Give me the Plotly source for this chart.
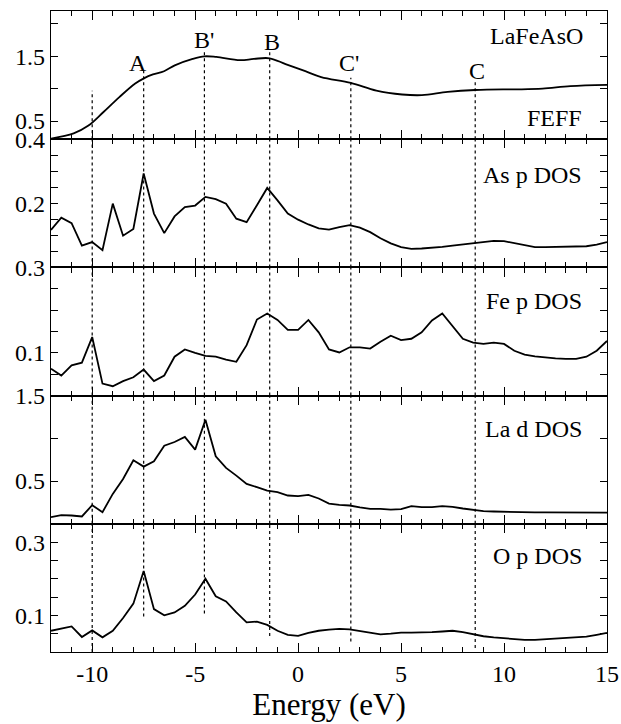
import plotly.graph_objects as go
from plotly.subplots import make_subplots

# ---------------- data ----------------
feff_energy = [-12.0, -10.9, -10.18, -9.45, -8.68, -7.91, -7.49, -7.05, -6.51, -5.99, -5.12, -4.55,
               -3.97, -2.82, -2.15, -1.38, -0.61, 0.35, 1.12, 2.56, 3.8, 5.05, 6.01, 7.26, 8.6,
               9.95, 10.72, 11.87, 13.22, 15.0]
feff_mu = [0.23, 0.31, 0.43, 0.64, 0.87, 1.08, 1.16, 1.22, 1.27, 1.36, 1.46, 1.50,
           1.49, 1.44, 1.46, 1.47, 1.38, 1.27, 1.18, 1.09, 0.97, 0.91, 0.90, 0.95, 0.98,
           0.99, 0.99, 1.00, 1.04, 1.06]

dos_energy = [-12.0, -11.5, -11.0, -10.5, -10.0, -9.5, -9.0, -8.5, -8.0, -7.5, -7.0, -6.5, -6.0,
              -5.5, -5.0, -4.5, -4.0, -3.5, -3.0, -2.5, -2.0, -1.5, -1.0, -0.5, 0.0, 0.5, 1.0,
              1.5, 2.0, 2.5, 3.0, 3.5, 4.0, 4.5, 5.0, 5.5, 6.0, 6.5, 7.0, 7.5, 8.0, 8.5, 9.0,
              9.5, 10.0, 10.5, 11.0, 11.5, 12.0, 12.5, 13.0, 13.5, 14.0, 14.5, 15.0]

as_p = [0.117, 0.155, 0.138, 0.068, 0.079, 0.054, 0.199, 0.099, 0.120, 0.293, 0.168, 0.107, 0.159,
        0.188, 0.193, 0.220, 0.213, 0.199, 0.152, 0.141, 0.194, 0.248, 0.209, 0.168, 0.149, 0.134,
        0.122, 0.118, 0.126, 0.132, 0.124, 0.110, 0.091, 0.075, 0.063, 0.058, 0.059, 0.061, 0.064,
        0.068, 0.072, 0.076, 0.080, 0.083, 0.082, 0.075, 0.068, 0.063, 0.063, 0.064, 0.064, 0.064,
        0.066, 0.071, 0.079]

fe_p = [0.063, 0.047, 0.071, 0.077, 0.137, 0.028, 0.022, 0.034, 0.043, 0.061, 0.034, 0.047, 0.091,
        0.108, 0.100, 0.093, 0.091, 0.084, 0.079, 0.118, 0.178, 0.192, 0.177, 0.154, 0.154, 0.177,
        0.148, 0.108, 0.101, 0.113, 0.113, 0.110, 0.126, 0.140, 0.130, 0.133, 0.148, 0.176, 0.192,
        0.162, 0.133, 0.124, 0.121, 0.124, 0.121, 0.105, 0.096, 0.092, 0.089, 0.087, 0.086, 0.086,
        0.091, 0.105, 0.128]

la_d = [0.078, 0.101, 0.097, 0.086, 0.218, 0.136, 0.350, 0.525, 0.743, 0.669, 0.731, 0.914, 0.957,
        1.016, 0.868, 1.218, 0.790, 0.654, 0.564, 0.467, 0.428, 0.389, 0.370, 0.331, 0.323, 0.339,
        0.296, 0.237, 0.222, 0.214, 0.191, 0.175, 0.175, 0.167, 0.171, 0.206, 0.195, 0.195, 0.206,
        0.198, 0.179, 0.160, 0.148, 0.144, 0.140, 0.138, 0.136, 0.134, 0.134, 0.133, 0.133, 0.132,
        0.131, 0.130, 0.130]

o_p = [0.058, 0.065, 0.070, 0.041, 0.059, 0.040, 0.058, 0.093, 0.132, 0.221, 0.117, 0.100, 0.108,
       0.126, 0.157, 0.200, 0.152, 0.138, 0.108, 0.081, 0.083, 0.074, 0.058, 0.047, 0.044, 0.052,
       0.058, 0.061, 0.063, 0.062, 0.057, 0.052, 0.048, 0.050, 0.053, 0.053, 0.053, 0.054, 0.056,
       0.058, 0.054, 0.048, 0.043, 0.040, 0.037, 0.034, 0.033, 0.033, 0.035, 0.037, 0.039, 0.041,
       0.042, 0.047, 0.052]

x_tickvals = [-10, -5, 0, 5, 10, 15]
x_ticktext = ["-10", "-5", "0", "5", "10", "15"]

feature_energy = [-10.0, -7.5, -4.55, -1.38, 2.56, 8.6]
feature_names = ["", "A", "B'", "B", "C'", "C"]
feature_label_x = [None, -7.76, -4.55, -1.28, 2.46, 8.7]
feature_label_y = [None, 1.39, 1.75, 1.72, 1.39, 1.27]
feff_line_top = [0.97, 1.28, 1.60, 1.57, 1.17, 1.14]
op_line_bottom = [0.0, 0.097, 0.105, 0.044, 0.029, 0.011]

panel_names = ["FEFF", "As p DOS", "Fe p DOS", "La d DOS", "O p DOS"]
panel_series = [None, as_p, fe_p, la_d, o_p]
panel_ranges = [[0.22, 2.2], [0, 0.4], [0, 0.3], [0, 1.5], [0, 0.35]]
panel_tickvals = [[0.5, 1.0, 1.5, 2.0],
                  [0.05, 0.1, 0.15, 0.2, 0.25, 0.3, 0.35, 0.4],
                  [0.05, 0.1, 0.15, 0.2, 0.25, 0.3],
                  [0.5, 1.0, 1.5],
                  [0.05, 0.1, 0.15, 0.2, 0.25, 0.3]]
panel_ticktext = [["0.5", "", "1.5", ""],
                  ["", "", "", "0.2", "", "", "", "0.4"],
                  ["", "0.1", "", "", "", "0.3"],
                  ["0.5", "", "1.5"],
                  ["", "0.1", "", "", "", "0.3"]]
panel_label_y = [0.54, 0.288, 0.221, 1.11, 0.262]

FONT = "Liberation Serif"

fig = make_subplots(rows=5, cols=1, shared_xaxes=True, vertical_spacing=0)

fig.add_trace(go.Scatter(x=feff_energy, y=feff_mu, mode="lines", line=dict(color="black", width=1.8),
                         line_shape="spline", showlegend=False), row=1, col=1)
for i in range(1, 5):
    fig.add_trace(go.Scatter(x=dos_energy, y=panel_series[i], mode="lines",
                             line=dict(color="black", width=1.8), showlegend=False), row=i + 1, col=1)

# dotted feature lines
for k, e in enumerate(feature_energy):
    fig.add_shape(type="line", x0=e, x1=e, y0=panel_ranges[0][0], y1=feff_line_top[k],
                  xref="x", yref="y", line=dict(color="black", width=1.2, dash="dot"))
    for p in (2, 3, 4):
        fig.add_shape(type="line", x0=e, x1=e, y0=panel_ranges[p - 1][0], y1=panel_ranges[p - 1][1],
                      xref="x%d" % p, yref="y%d" % p, line=dict(color="black", width=1.2, dash="dot"))
    fig.add_shape(type="line", x0=e, x1=e, y0=op_line_bottom[k], y1=panel_ranges[4][1],
                  xref="x5", yref="y5", line=dict(color="black", width=1.2, dash="dot"))

# feature letters
for k, name in enumerate(feature_names):
    if name:
        fig.add_annotation(x=feature_label_x[k], y=feature_label_y[k], xref="x", yref="y", text=name,
                           showarrow=False, font=dict(family=FONT, size=24, color="black"))

fig.add_annotation(x=13.95, y=1.82, xref="x", yref="y", text="LaFeAsO", showarrow=False,
                   xanchor="right", font=dict(family=FONT, size=24, color="black"))
for i, name in enumerate(panel_names):
    fig.add_annotation(x=13.9, y=panel_label_y[i], xref="x%s" % ("" if i == 0 else i + 1),
                       yref="y%s" % ("" if i == 0 else i + 1), text=name, showarrow=False,
                       xanchor="right", font=dict(family=FONT, size=24, color="black"))

for i in range(5):
    fig.update_yaxes(range=panel_ranges[i], tickvals=panel_tickvals[i], ticktext=panel_ticktext[i],
                     ticks="inside", ticklen=7, tickwidth=1.3, tickcolor="black",
                     showline=True, linewidth=1.2, linecolor="black", mirror="allticks",
                     showgrid=False, zeroline=False, automargin=False,
                     tickfont=dict(family=FONT, size=24, color="black"), row=i + 1, col=1)
    fig.update_xaxes(range=[-12, 15], tickvals=x_tickvals, ticktext=x_ticktext,
                     ticks="inside", ticklen=9, tickwidth=1.3, tickcolor="black",
                     minor=dict(dtick=1, ticks="inside", ticklen=5, tickwidth=1.1, tickcolor="black"),
                     showline=True, linewidth=1.2, linecolor="black", mirror="allticks",
                     showgrid=False, zeroline=False, automargin=False,
                     tickfont=dict(family=FONT, size=24, color="black"), row=i + 1, col=1)

fig.update_xaxes(title=dict(text="Energy (eV)", font=dict(family=FONT, size=31, color="black"), standoff=2),
                 row=5, col=1)

fig.update_layout(width=621, height=724, margin=dict(l=51, r=14, t=11, b=72, autoexpand=False),
                  plot_bgcolor="white", paper_bgcolor="white",
                  font=dict(family=FONT, color="black"))

fig.write_html("out.html", config={"displayModeBar": False},
               post_script="document.body.style.margin='0px';")
